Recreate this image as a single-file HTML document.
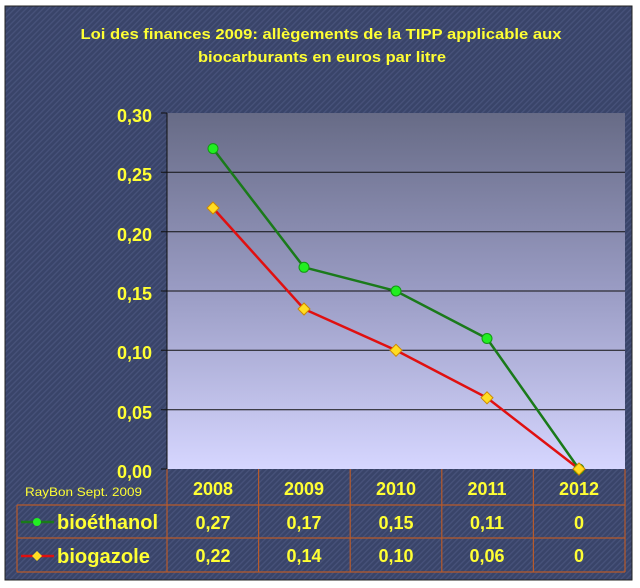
<!DOCTYPE html>
<html><head><meta charset="utf-8"><style>
html,body{margin:0;padding:0;background:#fff;}
svg{display:block;}
text{font-family:"Liberation Sans",Arial,sans-serif;font-weight:bold;fill:#ffff33;}
</style></head><body>
<svg width="640" height="588" viewBox="0 0 640 588" xmlns="http://www.w3.org/2000/svg">
<defs>
<pattern id="st" width="4" height="4" patternUnits="userSpaceOnUse" patternTransform="rotate(45)">
<rect width="4" height="4" fill="#394469"/>
<rect width="1.3" height="4" fill="#47527a"/>
</pattern>
<linearGradient id="pg" x1="0" y1="0" x2="0" y2="1">
<stop offset="0" stop-color="#676b86"/>
<stop offset="0.5" stop-color="#9a9cc4"/>
<stop offset="1" stop-color="#d6d6ff"/>
</linearGradient>
</defs>
<rect x="0" y="0" width="640" height="588" fill="#fff"/>
<rect x="5" y="6" width="627" height="574" fill="url(#st)" stroke="#222" stroke-width="1"/>
<text x="321" y="39" font-size="15" text-anchor="middle" textLength="481" lengthAdjust="spacingAndGlyphs">Loi des finances 2009: allègements de la TIPP applicable aux</text>
<text x="322" y="62" font-size="15" text-anchor="middle" textLength="248" lengthAdjust="spacingAndGlyphs">biocarburants en euros par litre</text>
<rect x="167" y="113" width="458" height="356" fill="url(#pg)"/>
<g stroke="#111" stroke-width="1">
<line x1="161" y1="172.3" x2="625" y2="172.3"/>
<line x1="161" y1="231.7" x2="625" y2="231.7"/>
<line x1="161" y1="291" x2="625" y2="291"/>
<line x1="161" y1="350.3" x2="625" y2="350.3"/>
<line x1="161" y1="409.7" x2="625" y2="409.7"/>
<line x1="161" y1="113" x2="167" y2="113"/>
<line x1="161" y1="469" x2="167" y2="469"/>
<line x1="167" y1="113" x2="167" y2="469"/>
</g>
<g font-size="18" text-anchor="end">
<text x="152" y="122">0,30</text>
<text x="152" y="181">0,25</text>
<text x="152" y="241">0,20</text>
<text x="152" y="300">0,15</text>
<text x="152" y="359">0,10</text>
<text x="152" y="419">0,05</text>
<text x="152" y="478">0,00</text>
</g>
<polyline points="213,148.6 304,267.3 396,291 487,338.5 579,469" fill="none" stroke="#1a7a1a" stroke-width="2.5"/>
<polyline points="213,208 304,309 396,350.3 487,397.8 579,469" fill="none" stroke="#e01010" stroke-width="2.5"/>
<g fill="#22ee22" stroke="#119911" stroke-width="1">
<circle cx="213" cy="148.6" r="5"/><circle cx="304" cy="267.3" r="5"/><circle cx="396" cy="291" r="5"/><circle cx="487" cy="338.5" r="5"/><circle cx="579" cy="469" r="5"/>
</g>
<g fill="#ffdd22" stroke="#cc8800" stroke-width="1">
<path d="M213 202l6 6-6 6-6-6z"/><path d="M304 303l6 6-6 6-6-6z"/><path d="M396 344.3l6 6-6 6-6-6z"/><path d="M487 391.8l6 6-6 6-6-6z"/><path d="M579 463l6 6-6 6-6-6z"/>
</g>
<g stroke="#b85a2a" stroke-width="1.2" fill="none">
<line x1="167" y1="469" x2="167" y2="572"/>
<line x1="258.6" y1="469" x2="258.6" y2="572"/>
<line x1="350.2" y1="469" x2="350.2" y2="572"/>
<line x1="441.8" y1="469" x2="441.8" y2="572"/>
<line x1="533.4" y1="469" x2="533.4" y2="572"/>
<line x1="625" y1="469" x2="625" y2="572"/>
<line x1="17" y1="505" x2="625" y2="505"/>
<line x1="17" y1="538" x2="625" y2="538"/>
<line x1="17" y1="572" x2="625" y2="572"/>
<line x1="17" y1="505" x2="17" y2="572"/>
</g>
<text x="25" y="496" font-size="12" style="font-weight:normal" fill="#e8e860" textLength="117" lengthAdjust="spacingAndGlyphs">RayBon Sept. 2009</text>
<g font-size="18" text-anchor="middle">
<text x="213" y="495">2008</text><text x="304" y="495">2009</text><text x="396" y="495">2010</text><text x="487" y="495">2011</text><text x="579" y="495">2012</text>
<text x="213" y="529">0,27</text><text x="304" y="529">0,17</text><text x="396" y="529">0,15</text><text x="487" y="529">0,11</text><text x="579" y="529">0</text>
<text x="213" y="562">0,22</text><text x="304" y="562">0,14</text><text x="396" y="562">0,10</text><text x="487" y="562">0,06</text><text x="579" y="562">0</text>
</g>
<line x1="21" y1="522" x2="54" y2="522" stroke="#1a7a1a" stroke-width="2.5"/>
<circle cx="37" cy="522" r="4" fill="#22ee22"/>
<line x1="21" y1="556" x2="54" y2="556" stroke="#e01010" stroke-width="2.5"/>
<path d="M37 551l5 5-5 5-5-5z" fill="#ffdd22"/>
<text x="57" y="529" font-size="20" textLength="101" lengthAdjust="spacingAndGlyphs">bioéthanol</text>
<text x="57" y="563" font-size="20" textLength="93" lengthAdjust="spacingAndGlyphs">biogazole</text>
</svg>
</body></html>
